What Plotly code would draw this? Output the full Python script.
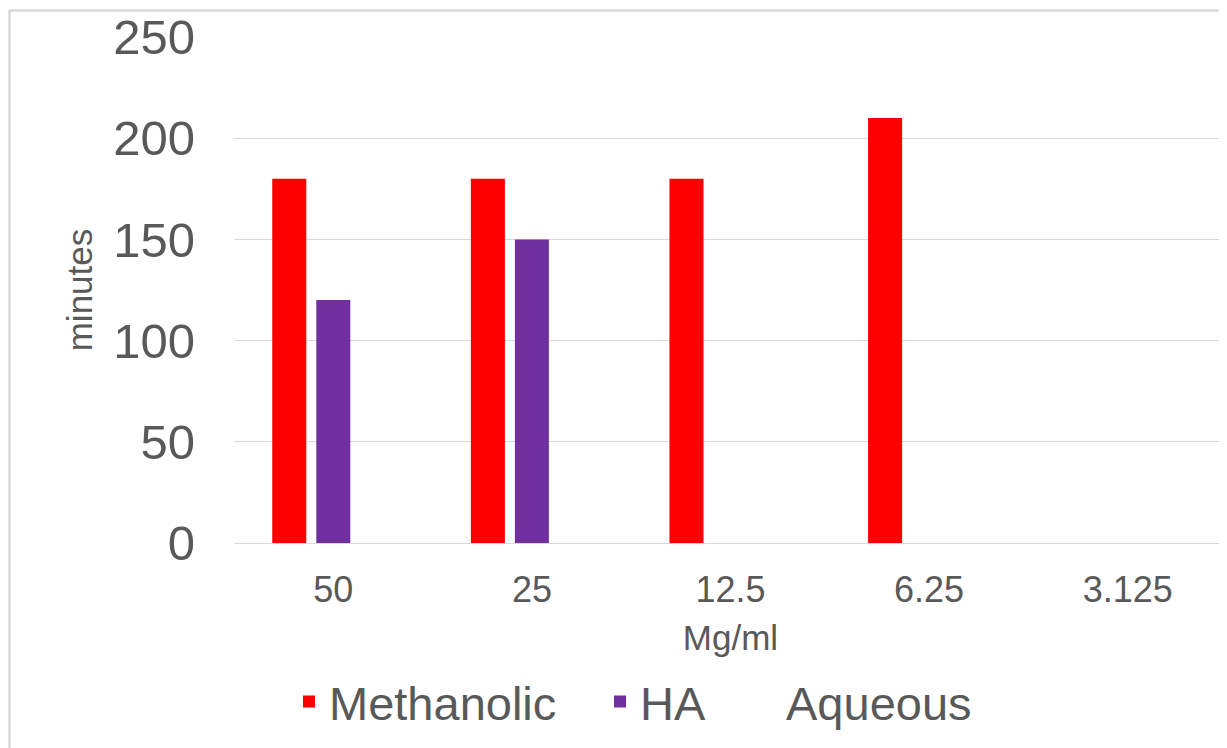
import plotly.graph_objects as go

categories = ["50", "25", "12.5", "6.25", "3.125"]
methanolic = [180, 180, 180, 210, 0]
ha = [120, 150, 0, 0, 0]
aqueous = [0, 0, 0, 0, 0]

y_ticks = [0, 50, 100, 150, 200, 250]

FONT = "Liberation Sans, Arial, sans-serif"
TXT = "#595959"
GRID = "#D9D9D9"

# page body has an 8px margin; work in window pixels and convert
OFF = 8
W, H = 1227 - OFF, 748 - OFF
L = 234 - OFF
T = 37 - OFF
B = H - (543 - OFF)
R = 0
pw, ph = W - L - R, H - T - B

def px2paper_x(px):
    return (px - OFF - L) / pw

def px2paper_y(py):
    return (H - B - (py - OFF)) / ph

fig = go.Figure()
fig.add_trace(go.Bar(name="Methanolic", x=categories, y=methanolic,
                     marker=dict(color="#FF0000", line=dict(width=0)), legend="legend"))
fig.add_trace(go.Bar(name="HA", x=categories, y=ha,
                     marker=dict(color="#7030A0", line=dict(width=0)), legend="legend2"))
fig.add_trace(go.Bar(name="Aqueous", x=categories, y=aqueous,
                     marker=dict(color="#FFFFFF", line=dict(width=0)), legend="legend3"))

leg_common = dict(orientation="h", xanchor="left", yanchor="middle",
                  font=dict(size=47, color=TXT, family=FONT), bgcolor="rgba(0,0,0,0)")

fig.update_layout(
    width=W, height=H,
    margin=dict(l=L, r=R, t=T, b=B, pad=0),
    paper_bgcolor="white", plot_bgcolor="white",
    barmode="group", bargap=0.335, bargroupgap=0.227,
    font=dict(family=FONT, color=TXT),
    xaxis=dict(
        type="category", showgrid=False, zeroline=False, showline=False, ticks="",
        tickfont=dict(size=36, color=TXT, family=FONT), ticklabelstandoff=22,
        title=dict(text="Mg/ml", font=dict(size=35, color=TXT, family=FONT), standoff=16),
    ),
    yaxis=dict(
        range=[0, 250], tickvals=y_ticks, showgrid=True, gridcolor=GRID, gridwidth=1.3,
        zeroline=True, zerolinecolor=GRID, zerolinewidth=1.3, showline=False, ticks="",
        tickfont=dict(size=49, color=TXT, family=FONT), ticklabelstandoff=38,
        title=dict(text="minutes", font=dict(size=35, color=TXT, family=FONT), standoff=9),
    ),
    showlegend=True,
    legend=dict(x=px2paper_x(329 - 40), y=px2paper_y(702), **leg_common),
    legend2=dict(x=px2paper_x(640 - 40), y=px2paper_y(702), **leg_common),
    legend3=dict(x=px2paper_x(786 - 40), y=px2paper_y(702), **leg_common),
    shapes=[
        dict(type="line", xref="paper", yref="paper", x0=px2paper_x(9), x1=px2paper_x(1240),
             y0=px2paper_y(10.5), y1=px2paper_y(10.5), line=dict(color=GRID, width=2.5)),
        dict(type="line", xref="paper", yref="paper", x0=px2paper_x(9.5), x1=px2paper_x(9.5),
             y0=px2paper_y(10), y1=px2paper_y(760), line=dict(color=GRID, width=2.5)),
    ],
)

fig.write_html("out.html")
